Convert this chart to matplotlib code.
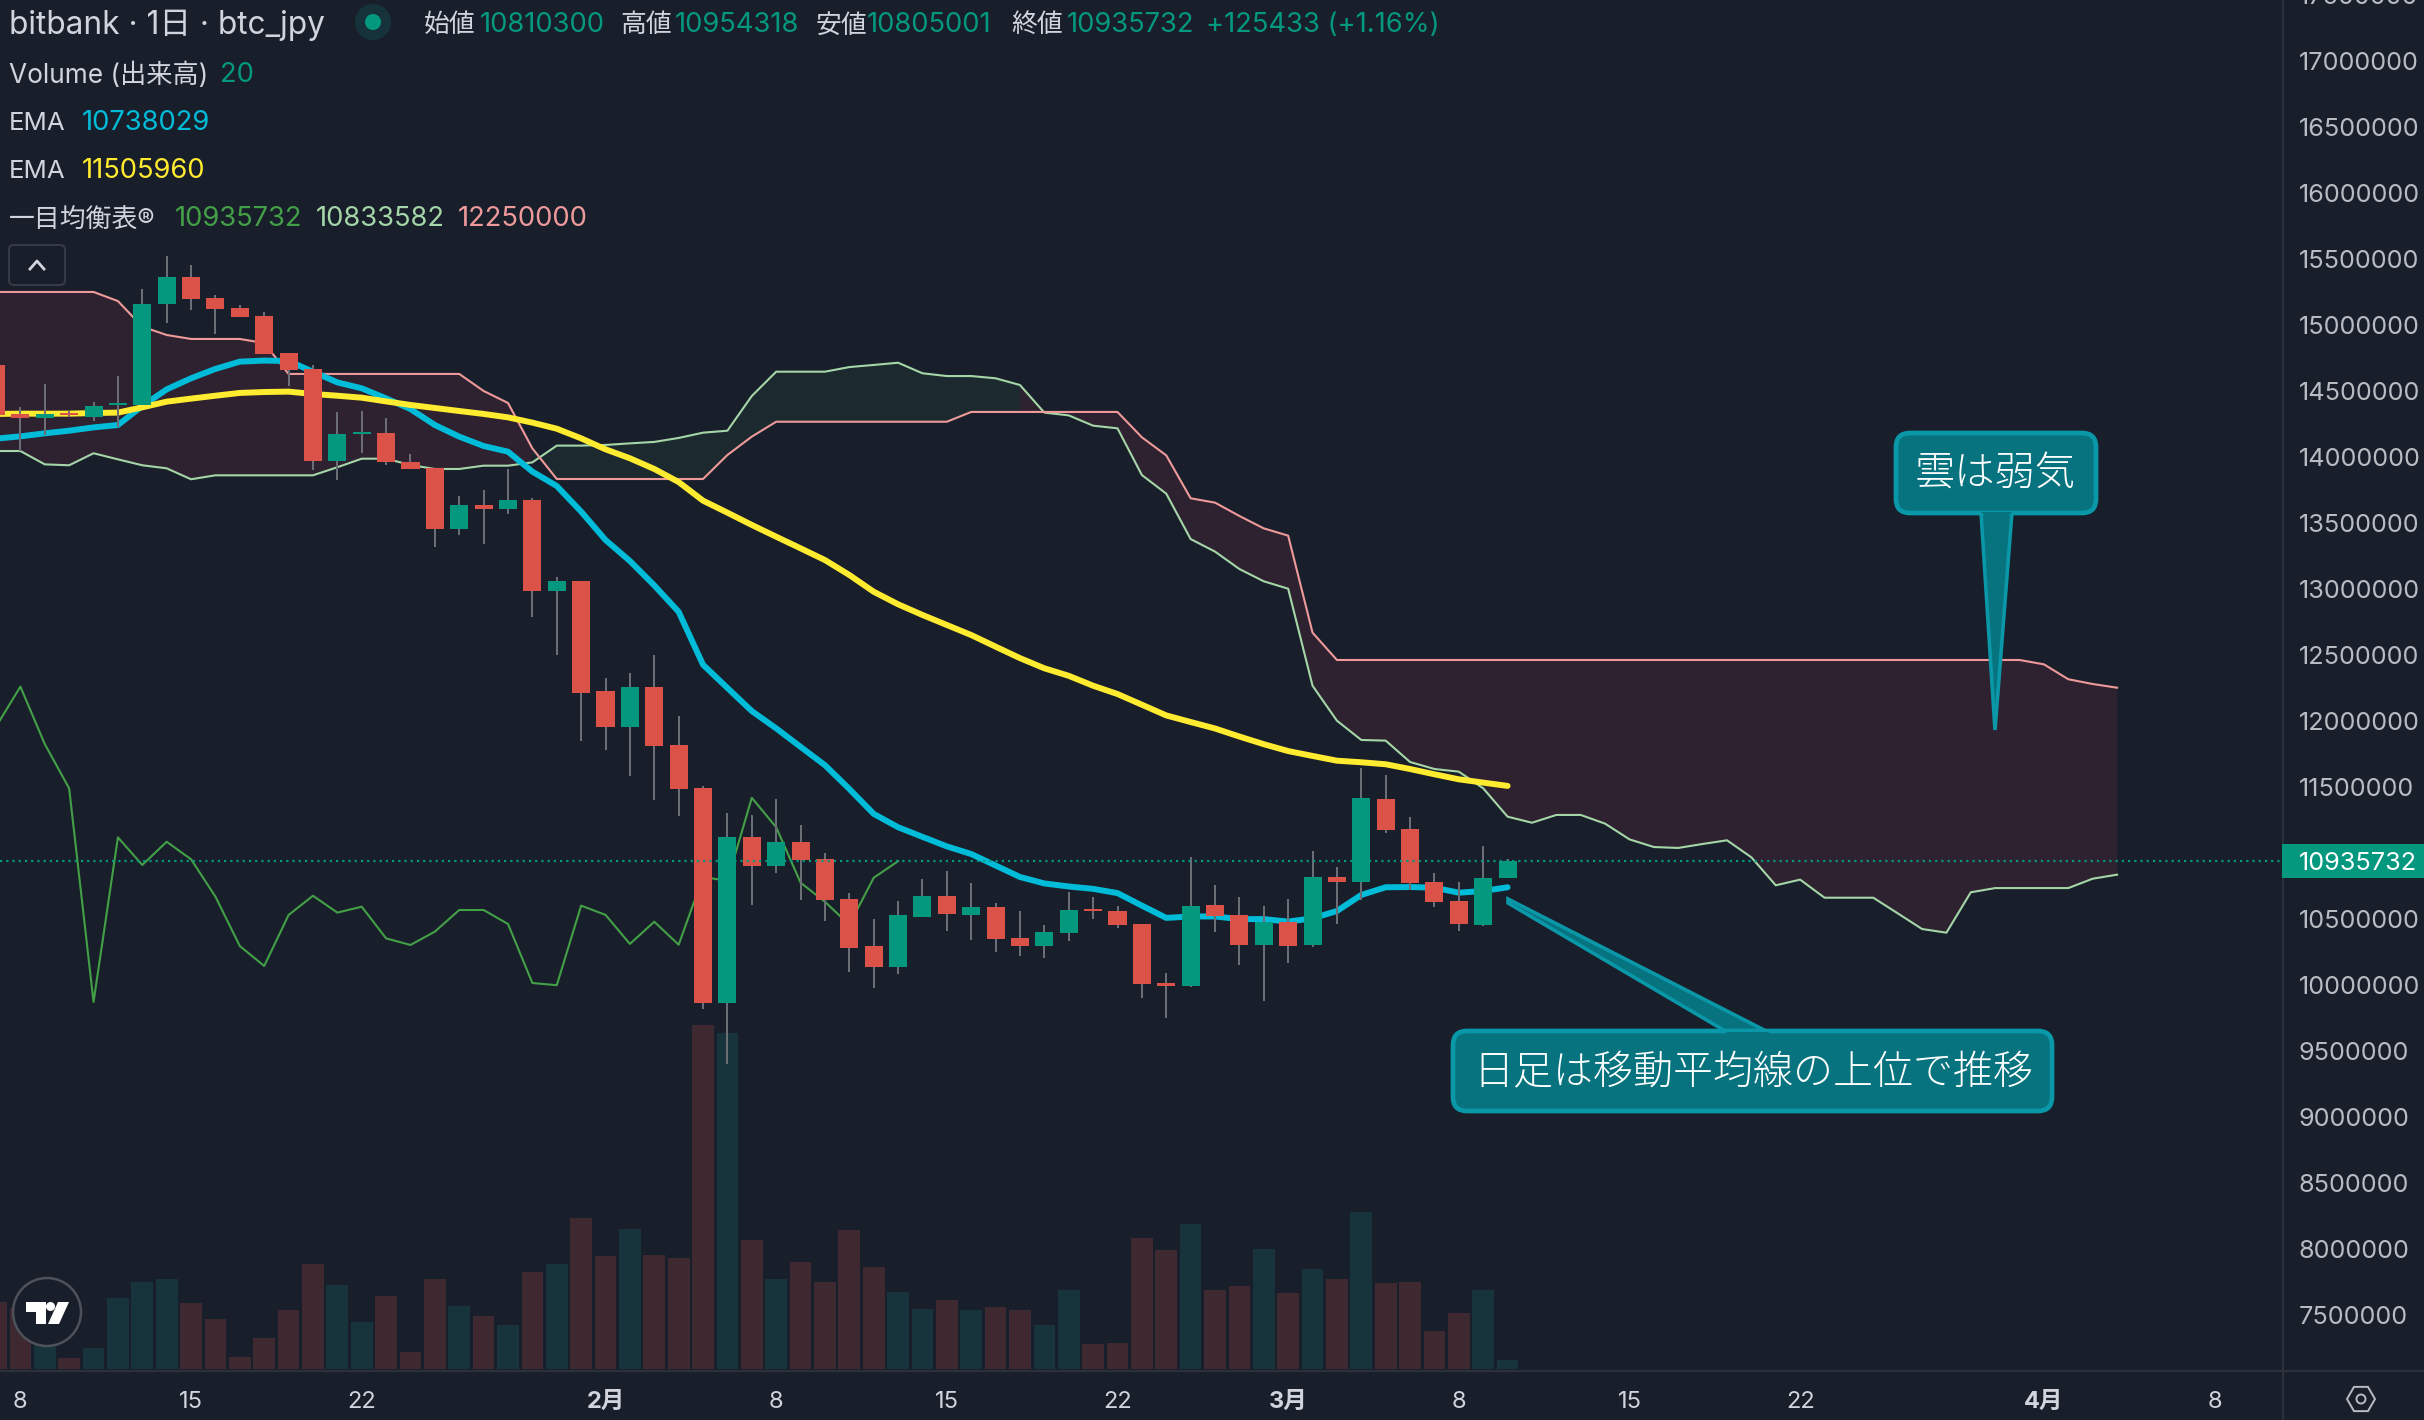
import numpy as np
import matplotlib
matplotlib.use("Agg")
import matplotlib.pyplot as plt
from matplotlib.patches import FancyBboxPatch, Polygon, Circle
from matplotlib.ticker import FixedLocator, FixedFormatter

plt.rcParams['font.family'] = ['Inter', 'Noto Sans CJK JP', 'DejaVu Sans']

# ---------------- data (prices in units of 10,000 JPY, day 0 = 8 Jan) ----------------
candle_days = list(range(-1, 62))
open_ = [1469.5,1432.4,1429.3,1433.1,1430.1,1439.2,1439.2,1515.7,1536.1,1520.2,1512.6,1506.6,1478.6,1466.4,1396.8,1417.2,1418.0,1396.0,1391.5,1345.2,1363.4,1360.4,1367.2,1298.3,1305.8,
         1222.5,1195.3,1225.4,1181.6,1148.9,985.9,1111.8,1090.0,1108.0,1095.2,1064.8,1029.1,1013.5,1051.2,1067.1,1052.6,1058.7,1035.2,1029.1,1039.0,1057.3,1055.8,1046.0,1001.3,999.0,
         1060.4,1052.8,1030.1,1047.8,1030.1,1081.6,1077.8,1140.7,1118.0,1077.8,1063.4,1045.2,1081.03]
high  = [1469.5,1437.7,1455.1,1434.6,1441.4,1461.1,1527.0,1552.0,1545.2,1522.5,1514.9,1509.6,1478.6,1469.5,1433.9,1434.6,1429.3,1402.1,1391.5,1370.2,1374.8,1390.7,1368.7,1308.9,1305.8,
         1232.4,1236.1,1249.8,1203.7,1150.6,1130.0,1128.6,1140.8,1121.0,1099.6,1069.4,1049.7,1063.4,1080.2,1085.9,1077.0,1061.9,1055.8,1045.1,1070.3,1066.5,1059.6,1046.0,1008.8,1096.7,
         1075.5,1066.4,1059.6,1064.9,1101.3,1089.2,1164.2,1158.9,1127.0,1084.6,1077.8,1105.1,1095.43]
low   = [1431.6,1404.3,1416.4,1430.3,1427.1,1422.8,1439.2,1501.3,1511.1,1492.9,1505.8,1477.8,1453.6,1389.9,1382.4,1402.8,1393.7,1390.7,1331.6,1340.7,1333.9,1356.6,1278.6,1249.8,1184.5,
         1177.9,1158.4,1140.2,1128.0,981.6,940.1,1060.4,1084.5,1064.2,1048.3,1009.7,997.5,1008.0,1051.2,1040.7,1033.8,1024.8,1021.6,1020.2,1033.2,1049.7,1043.1,990.0,974.6,998.1,
         1039.9,1014.9,987.7,1016.5,1028.6,1046.0,1064.2,1114.9,1071.8,1058.9,1040.7,1044.5,1080.50]
close = [1431.6,1429.3,1432.4,1431.6,1438.4,1440.7,1515.7,1536.1,1519.5,1511.9,1505.8,1477.8,1465.7,1396.8,1417.2,1418.7,1396.0,1390.7,1345.2,1363.4,1360.4,1367.2,1298.3,1305.8,1221.0,
         1195.3,1225.4,1180.8,1148.3,985.9,1111.8,1090.0,1108.0,1094.4,1064.2,1027.7,1013.5,1052.6,1067.1,1053.5,1058.7,1034.6,1029.1,1039.9,1056.7,1055.8,1045.1,1000.4,999.0,1059.6,
         1052.1,1030.1,1047.5,1029.3,1081.6,1077.8,1141.4,1117.2,1077.1,1062.7,1046.0,1080.8,1093.5732]
volume = [67,61,24,11,21,71,87,90,66,50,12,31,59,105,84,47,73,17,90,63,53,44,97,105,151,113,140,114,111,344,336,129,90,107,87,139,102,77,60,69,59,62,59,44,79,25,26,131,119,145,79,83,120,76,100,90,157,86,87,38,56,79,9]

ema_fast = [1413.7,1415.4,1417.7,1419.7,1422.2,1424.0,1438.4,1451.0,1459.4,1466.5,1472.0,1472.8,1472.5,1464.4,1456.3,1451.8,1444.2,1436.1,1424.0,1415.2,1408.1,1403.8,1388.7,1377.8,1358.4,
            1336.9,1321.0,1302.5,1282.5,1242.4,1224.8,1207.3,1194.2,1180.2,1166.3,1148.3,1129.4,1119.3,1112.0,1104.8,1099.0,1090.3,1081.6,1076.7,1074.4,1072.6,1069.4,1059.9,1050.6,1051.7,
            1051.7,1049.7,1049.7,1047.8,1050.3,1055.8,1068.0,1073.8,1074.0,1073.5,1069.7,1071.0,1073.8029]
ema_slow = [1432.4,1432.6,1432.6,1432.6,1433.1,1433.4,1437.4,1441.7,1444.0,1446.2,1448.3,1449.0,1449.3,1447.5,1446.2,1444.7,1441.9,1439.2,1436.9,1434.6,1432.4,1429.8,1425.8,1421.2,1413.9,
            1405.6,1398.8,1390.7,1380.8,1366.7,1357.6,1348.3,1339.4,1330.6,1321.7,1310.4,1297.7,1288.2,1280.1,1272.5,1264.9,1256.1,1247.4,1239.7,1234.0,1226.5,1220.2,1212.1,1204.0,1199.0,
            1194.1,1188.0,1182.2,1177.0,1173.3,1169.7,1168.5,1167.0,1163.4,1159.4,1155.6,1153.1,1150.596]

senkou_days = list(range(-1, 87))
senkou_a = [1404.3,1404.3,1394.2,1393.5,1402.6,1398.0,1393.5,1391.2,1382.9,1385.9,1385.9,1385.9,1385.9,1385.9,1392.0,1398.5,1398.5,1393.7,1390.7,1390.7,1393.2,1393.2,
            1395.7,1408.4,1408.4,1408.9,1410.1,1411.2,1414.2,1418.2,1419.7,1446.0,1464.4,1464.4,1464.4,1467.9,1469.5,1471.2,1463.2,1461.1,1461.1,1459.4,1454.3,1433.4,1431.3,
            1423.5,1421.5,1386.1,1372.0,1337.6,1328.1,1314.9,1305.6,1300.0,1226.5,1200.0,1185.4,1184.9,1168.7,1163.4,1161.4,1148.8,1127.3,1122.7,1128.6,1128.6,1122.0,1110.1,
            1104.3,1103.6,1106.6,1109.4,1096.5,1075.3,1079.6,1065.9,1065.9,1065.9,1054.1,1042.2,1039.4,1070.0,1073.2,1073.2,1073.2,1073.2,1080.3,1083.3582]
senkou_b = [1524.8,1524.8,1524.8,1524.8,1524.8,1517.9,1498.5,1492.2,1489.2,1489.2,1489.2,1486.1,1462.7,1462.7,1462.7,1462.7,1462.7,1462.7,1462.7,1462.7,1449.8,1440.7,
            1406.3,1383.1,1383.1,1383.1,1383.1,1383.1,1383.1,1383.1,1401.3,1415.2,1426.5,1426.5,1426.5,1426.5,1426.5,1426.5,1426.5,1426.5,1433.9,1433.9,1433.9,1433.9,1433.9,
            1433.9,1433.9,1414.7,1401.0,1368.5,1365.2,1355.1,1345.7,1340.2,1266.7,1246.0,1246.0,1246.0,1246.0,1246.0,1246.0,1246.0,1246.0,1246.0,1246.0,1246.0,1246.0,1246.0,
            1246.0,1246.0,1246.0,1246.0,1246.0,1246.0,1246.0,1246.0,1246.0,1246.0,1246.0,1246.0,1246.0,1246.0,1246.0,1246.0,1242.7,1231.4,1227.8,1225.0]

chikou_days = list(range(-1, 37))
chikou = [1195.5,1225.8,1182.3,1148.7,986.9,1111.6,1090.7,1108.3,1095.0,1066.7,1029.3,1014.2,1052.8,1067.4,1054.6,1059.1,1035.1,1030.1,1040.2,1056.6,1056.6,1046.0,
          1001.3,999.6,1059.9,1052.9,1030.9,1047.7,1030.3,1081.6,1078.7,1141.6,1119.3,1077.3,1062.8,1045.4,1081.0,1093.5732]

x_tick_days = [0,7,14,24,31,38,45,52,59,66,73,83,90]
x_tick_labels = ['8','15','22','2月','8','15','22','3月','8','15','22','4月','8']
y_ticks = list(range(7500000, 17000001, 500000))

header_values = {'open': '10810300', 'high': '10954318', 'low': '10805001', 'close': '10935732',
                 'change': '+125433 (+1.16%)', 'vol': '20', 'ema_fast': '10738029', 'ema_slow': '11505960',
                 'ichi1': '10935732', 'ichi2': '10833582', 'ichi3': '12250000'}
note_cloud = '雲は弱気'
note_daily = '日足は移動平均線の上位で推移'

# ---------------- style ----------------
W, H = 2424, 1420
BG = '#181f2b'
UP, DOWN = '#04987f', '#db5249'
UP_VOL, DOWN_VOL = '#17343c', '#3e2931'
WICK = '#6c6e76'
CLOUD_RED, CLOUD_GREEN = '#2f2230', '#1c2a2f'
CYAN, YELLOW = '#00bcd9', '#ffeb2f'
C_A, C_B, C_CH = '#a5d6a7', '#ef9a9a', '#43a047'
GRID = '#2c303b'
TXT = '#d1d4dc'
AXTXT = '#b9bbc2'
CALL_F, CALL_E = '#06737f', '#0a97a8'

AX_R, AX_B = 2283, 1370
X0, STEP = 20.4, 24.38          # pixel of day 0, pixels per day
Y_REF, Y_PX = 786.7, 66 / 500000  # pixel of 11.5M, pixels per JPY

to_yen = lambda a: np.array(a) * 10000

fig = plt.figure(figsize=(W / 100, H / 100), dpi=100, facecolor=BG)
rect = [0, (H - AX_B) / H, AX_R / W, AX_B / H]
ax_v = fig.add_axes(rect, zorder=1)
ax = fig.add_axes(rect, zorder=2)
ax.patch.set_alpha(0)
ov = fig.add_axes([0, 0, 1, 1], zorder=3)
ov.set_xlim(0, W); ov.set_ylim(H, 0); ov.axis('off')

xlim = (-X0 / STEP, (AX_R - X0) / STEP)
ylim = (11500000 - (AX_B - Y_REF) / Y_PX, 11500000 + Y_REF / Y_PX)
ax.set_xlim(xlim); ax.set_ylim(ylim)
ax_v.set_xlim(xlim); ax_v.set_ylim(-1, AX_B - 1); ax_v.axis('off')

days = np.array(candle_days)
o, h, l, c = map(to_yen, (open_, high, low, close))
up = c >= o

# volume
ax_v.bar(days, volume, width=0.89, color=[UP_VOL if u else DOWN_VOL for u in up], linewidth=0)

# cloud
sd = np.array(senkou_days)
a, b = to_yen(senkou_a), to_yen(senkou_b)
green = a >= b
red = ~green
green_m = green | np.r_[green[1:], False]
red_m = red | np.r_[red[1:], False]
ax.fill_between(sd, a, b, where=green_m, color=CLOUD_GREEN, linewidth=0, zorder=1)
ax.fill_between(sd, a, b, where=red_m, color=CLOUD_RED, linewidth=0, zorder=1)
ax.plot(sd, a, color=C_A, lw=1.5, zorder=2)
ax.plot(sd, b, color=C_B, lw=1.5, zorder=2)
ax.plot(chikou_days, to_yen(chikou), color=C_CH, lw=1.5, zorder=2)

# EMAs
ax.plot(days, to_yen(ema_fast), color=CYAN, lw=4.3, zorder=3, solid_capstyle='round', solid_joinstyle='round')
ax.plot(days, to_yen(ema_slow), color=YELLOW, lw=4.3, zorder=4, solid_capstyle='round', solid_joinstyle='round')

# candles
ax.vlines(days, l, h, color=WICK, lw=1.45, zorder=5)
ax.bar(days, np.maximum(np.abs(c - o), 15000), bottom=np.minimum(o, c), width=0.74,
       color=[UP if u else DOWN for u in up], linewidth=0, zorder=6)

# last price line
ax.axhline(c[-1], color=UP, lw=1.6, linestyle=(0, (1, 1.8)), dash_capstyle='butt', zorder=7)

# axes
for s in ax.spines.values():
    s.set_visible(False)
ax.yaxis.tick_right()
ax.yaxis.set_major_locator(FixedLocator(y_ticks))
ax.yaxis.set_major_formatter(FixedFormatter([str(v) for v in y_ticks]))
ax.xaxis.set_major_locator(FixedLocator(x_tick_days))
ax.xaxis.set_major_formatter(FixedFormatter(x_tick_labels))
ax.tick_params(axis='y', length=0, pad=11.5, labelsize=18.2, labelcolor=AXTXT)
ax.tick_params(axis='x', length=0, pad=15, labelsize=17, labelcolor=TXT)
for t in ax.get_xticklabels():
    if '月' in t.get_text():
        t.set_fontweight('bold')
ov.text(2299, Y_REF - (17500000 - 11500000) * Y_PX, '17500000', fontsize=18.2, color=AXTXT, va='center_baseline', ha='left')

ov.plot([2282.7, 2282.7], [0, H], color=GRID, lw=1.6)
ov.plot([0, W], [1370.7, 1370.7], color=GRID, lw=1.6)

# last price tag
ov.add_patch(plt.Rectangle((2282, 844), W - 2282, 34, facecolor=UP, edgecolor='none', zorder=5))
ov.text(2299, 861, header_values['close'], color='white', fontsize=18.2, va='center_baseline', ha='left', zorder=6)

# header
def hdr(x, y, s, color=TXT, size=18.6):
    ov.text(x, y + 2.5, s, color=color, fontsize=size, va='center', ha='left')

NUM = 19.7
hdr(9, 23, 'bitbank · 1日 · btc_jpy', size=22.8)
ov.add_patch(Circle((373, 22), 18, facecolor='#16333b', edgecolor='none'))
ov.add_patch(Circle((373, 22), 8, facecolor=UP, edgecolor='none'))
for x_l, lab, x_v, key in [(424, '始値', 480, 'open'), (620, '高値', 675, 'high'), (816, '安値', 867, 'low'), (1011, '終値', 1067, 'close')]:
    hdr(x_l, 23, lab)
    hdr(x_v, 23, header_values[key], UP, NUM)
hdr(1206, 23, header_values['change'], UP, NUM)
hdr(9, 73, 'Volume (出来高)', size=18.9)
hdr(220, 73, header_values['vol'], UP, NUM)
hdr(9, 121, 'EMA')
hdr(81.6, 121, header_values['ema_fast'], CYAN, NUM)
hdr(9, 169, 'EMA')
hdr(81.6, 169, header_values['ema_slow'], YELLOW, NUM)
hdr(9, 217, '一目均衡表®')
hdr(174.5, 217, header_values['ichi1'], C_CH, NUM)
hdr(316, 217, header_values['ichi2'], C_A, NUM)
hdr(458, 217, header_values['ichi3'], C_B, NUM)

# collapse button
ov.add_patch(FancyBboxPatch((13, 249), 48, 32, boxstyle='round,pad=4,rounding_size=5', facecolor=BG, edgecolor='#363a45', lw=1.5, zorder=4))
ov.plot([30, 37, 44], [269, 261, 269], color=TXT, lw=2, zorder=5)

# callouts
def callout(x0, y0, x1, y1, tail, text, tx, ty, size):
    ov.add_patch(Polygon(tail, closed=True, facecolor=CALL_F, edgecolor=CALL_E, lw=2.6, zorder=8, joinstyle='miter'))
    r = 14
    ov.add_patch(FancyBboxPatch((x0 + r, y0 + r), x1 - x0 - 2 * r, y1 - y0 - 2 * r,
                                boxstyle=f'round,pad={r},rounding_size={r}',
                                facecolor=CALL_F, edgecolor=CALL_E, lw=3.4, zorder=9))
    ov.add_patch(Polygon(tail[:2] + [(tail[1][0] - 4, tail[1][1] + 4), (tail[0][0] + 4, tail[0][1] + 4)],
                         closed=True, facecolor=CALL_F, edgecolor='none', zorder=10))
    ov.text(tx, ty, text, color='white', fontsize=size, va='center', ha='center', zorder=11,
            family=['Noto Sans CJK JP'], fontweight='light')

callout(1896, 433, 2096, 513, [(1981, 512), (2012, 512), (1995, 730)], note_cloud, 1995, 474, 29)
callout(1453, 1031, 2052, 1111, [(1768, 1032), (1727, 1032), (1508, 903), (1508, 899)], note_daily, 1753, 1073, 28.8)

# TradingView badge
ov.add_patch(Circle((47, 1312), 34, facecolor=BG, edgecolor='#4e5159', lw=1.8, zorder=4))
ov.add_patch(Polygon([(26, 1302), (46, 1302), (46, 1324), (36, 1324), (36, 1312), (26, 1312)], facecolor='white', edgecolor='none', zorder=5))
ov.add_patch(Circle((50.5, 1306.5), 4.5, facecolor='white', edgecolor='none', zorder=5))
ov.add_patch(Polygon([(58, 1302), (69, 1302), (59, 1324), (48, 1324)], facecolor='white', edgecolor='none', zorder=5))

# settings icon
ang = np.deg2rad(np.arange(0, 360, 60))
ov.add_patch(Polygon(np.c_[2361 + 14 * np.cos(ang), 1399 + 14 * np.sin(ang)], closed=True, fill=False, edgecolor=AXTXT, lw=1.4))
ov.add_patch(Circle((2361, 1399), 4.5, fill=False, edgecolor=AXTXT, lw=1.4))

fig.savefig('out.png', dpi=100, facecolor=BG)
